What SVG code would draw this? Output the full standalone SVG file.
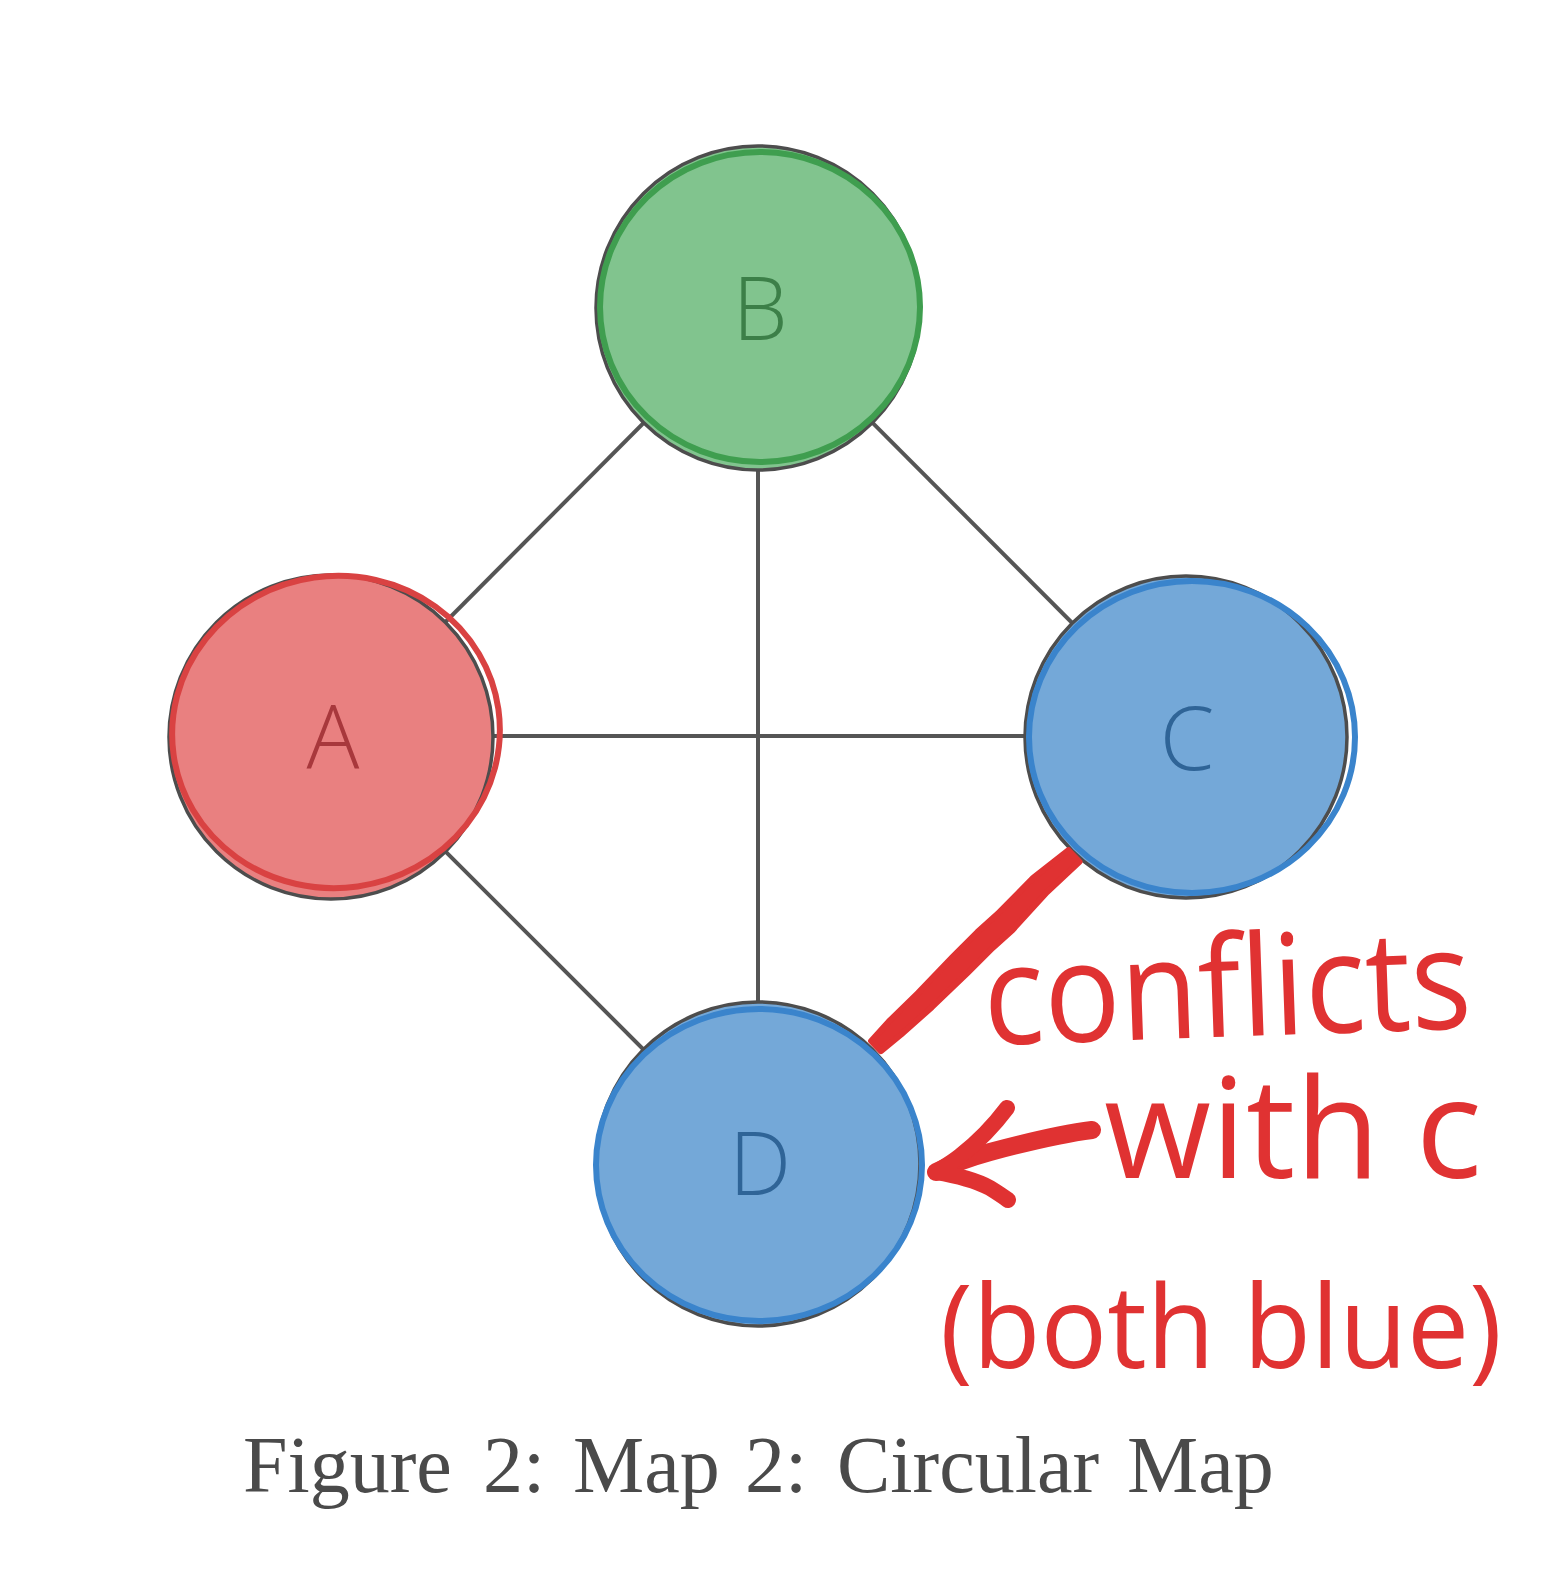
<svg xmlns="http://www.w3.org/2000/svg" width="1546" height="1596" viewBox="0 0 1546 1596">
  <style>
    .edge { stroke: #555555; stroke-width: 4; fill: none; }
    .ring { stroke: #4d4d4d; stroke-width: 3.5; }
    .outline { fill: none; stroke-width: 6; }
    .label { font-family: "Open Sans", "Noto Sans", "Liberation Sans", sans-serif; font-size: 88px; font-weight: 300; text-anchor: middle; }
    .ink { stroke: #e03232; fill: none; stroke-linecap: round; stroke-linejoin: round; }
    .hand { font-family: "Open Sans", "Liberation Sans", sans-serif; fill: #e03232; font-weight: 400; }
    .caption { font-family: "Liberation Serif", "DejaVu Serif", serif; font-size: 80px; fill: #4a4a4a; }
  </style>
  <rect width="1546" height="1596" fill="#ffffff"/>

  <g id="connectors">
    <line class="edge" x1="331" y1="737" x2="758" y2="308"/>
    <line class="edge" x1="758" y1="308" x2="1186" y2="737"/>
    <line class="edge" x1="331" y1="736" x2="1186" y2="736"/>
    <line class="edge" x1="758" y1="308" x2="758" y2="1164"/>
    <line class="edge" x1="331" y1="737" x2="758" y2="1164"/>
  </g>

  <g id="node-B">
    <circle class="ring" cx="758" cy="308" r="162" fill="#81c48e"/>
    <ellipse class="outline" cx="760" cy="307" rx="160" ry="155" stroke="#3f9e4f"/>
    <text class="label" x="760" y="340" fill="#3c7f48">B</text>
  </g>

  <g id="node-A">
    <circle class="ring" cx="331" cy="737" r="162" fill="#e98080"/>
    <ellipse class="outline" cx="336" cy="732" rx="164" ry="156" transform="rotate(-8 336 732)" stroke="#d94242"/>
    <text class="label" x="333" y="768" fill="#a8383c">A</text>
  </g>

  <g id="node-C">
    <circle class="ring" cx="1186" cy="737" r="161" fill="#74a8d8"/>
    <ellipse class="outline" cx="1192" cy="737" rx="163" ry="156" stroke="#3a84cc"/>
    <text class="label" x="1187" y="770" fill="#2f6497">C</text>
  </g>

  <g id="node-D">
    <circle class="ring" cx="758" cy="1164" r="162" fill="#74a8d8"/>
    <ellipse class="outline" cx="759" cy="1165" rx="163" ry="156" stroke="#3a84cc"/>
    <text class="label" x="760" y="1195" fill="#2f6497">D</text>
  </g>

  <g id="annotation">
    <path fill="#e03232" stroke="#e03232" stroke-width="6" stroke-linejoin="round" d="M1079.5,861.8 L1046.9,892.2 L1012.6,929.9 L992.6,947.9 L967.6,972.9 L931.9,1007.2 L901.2,1034.5 L880.9,1051.1 L871.1,1040.9 L888.8,1021.5 L918.1,992.8 L952.4,957.1 L977.4,932.1 L997.4,914.1 L1033.1,877.8 L1068.5,850.2 Z"/>
    <path class="ink" stroke-width="18" d="M1092,1130 C1060,1134 1020,1144 990,1152 C968,1158 950,1165 936,1172"/>
    <path class="ink" stroke-width="16" d="M1007,1108 C995,1124 978,1142 960,1156 C950,1164 942,1168 936,1172 C955,1175 975,1180 990,1188 C998,1193 1004,1197 1008,1200"/>
    <text class="hand" x="985" y="1045" font-size="140" textLength="488" lengthAdjust="spacingAndGlyphs" transform="rotate(-2 985 1045)">conflicts</text>
    <text class="hand" x="1104" y="1178" font-size="140" textLength="378" lengthAdjust="spacingAndGlyphs">with c</text>
    <text class="hand" x="940" y="1368" font-size="116" textLength="562" lengthAdjust="spacingAndGlyphs">(both blue)</text>
  </g>

  <g id="caption">
    <text class="caption" y="1492"><tspan x="243">Figure</tspan><tspan x="483">2:</tspan><tspan x="573">Map</tspan><tspan x="745">2:</tspan><tspan x="837">Circular</tspan><tspan x="1127">Map</tspan></text>
  </g>
</svg>
